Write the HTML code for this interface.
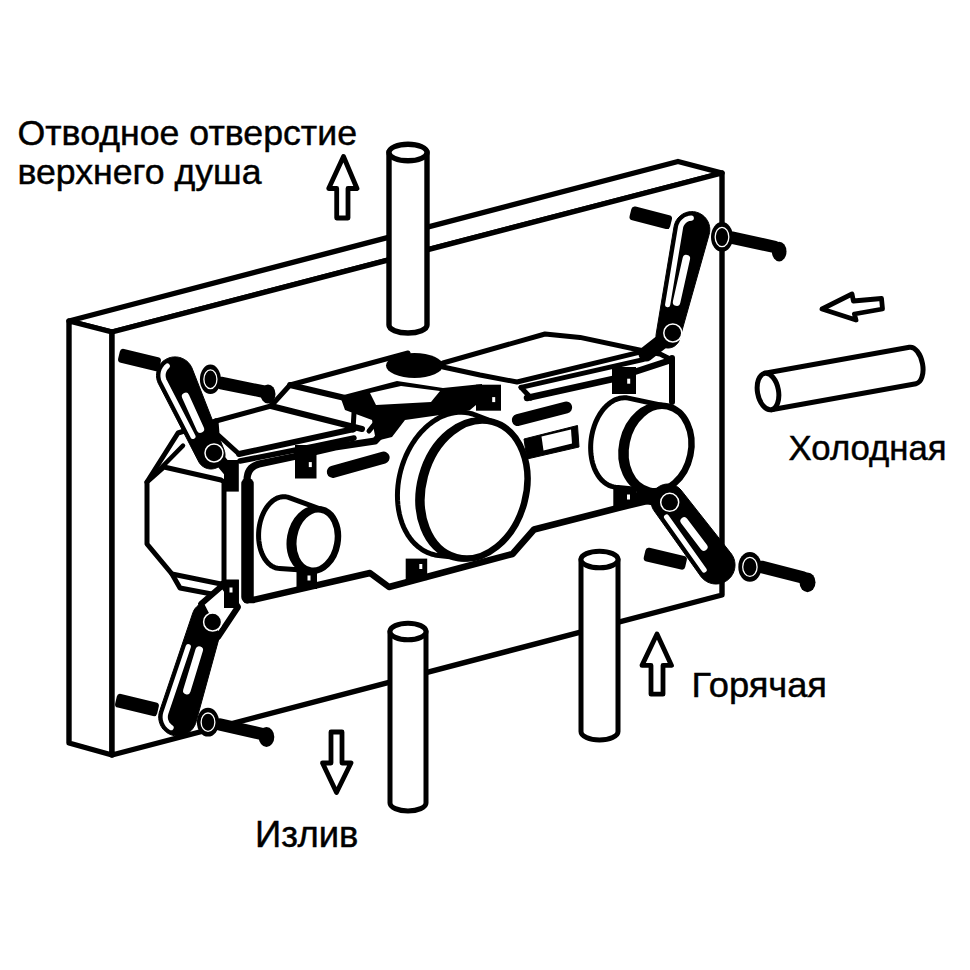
<!DOCTYPE html>
<html><head><meta charset="utf-8"><title>Diagram</title><style>
html,body{margin:0;padding:0;background:#fff;width:970px;height:970px;overflow:hidden}
svg{display:block}
text{font-family:"Liberation Sans",sans-serif;fill:#000}
</style></head><body>
<svg width="970" height="970" viewBox="0 0 970 970">
<g fill="#fff" stroke="#000" stroke-width="5.4" stroke-linejoin="round" stroke-linecap="round">
<polygon points="69,321 678,161.5 722,173 112,332"/>
<polygon points="69,321 112,332 112,755 69,743"/>
<polygon points="112,332 722,173 722,595 112,755"/>
<path d="M389,152 L389,325 A19,8 0 0 0 427,325 L427,152 Z"/>
<ellipse cx="408" cy="152.5" rx="19" ry="8.3"/>
</g>
<g fill="none" stroke="#000" stroke-width="5" stroke-linejoin="round" stroke-linecap="round">
<polygon fill="#fff" points="147,482 164,467 221,480 224,482 224,582 221,584 172,574 147,544"/>
<path d="M147,482 L178,433 L216,421"/>
<path d="M159,470 L183,445.6" stroke-width="4.5"/>
<path d="M172,574 L180,588 L217,595"/>
<path d="M216,421 L217,434 L239,454"/>
<path d="M239,454 L354,429" stroke-width="6"/>
<path d="M216,421 L271,406 L290,385 L408,353"/>
<path d="M271,406 L362,429" stroke-width="6"/>
<path d="M290,385 L345,398" stroke-width="6"/>
<path d="M354,413 L353,430 M381,416 L369,431"/>
<path d="M240,461 L316,446 L354,438" stroke-width="5.5"/>
<path d="M443,363 L545,334 L580,337.4 L644,351 L661,354.4 L672,360"/>
<path d="M443,367 L480,375 L517,382 L639,352.4"/>
<path d="M521,387.4 L643,359.6" stroke-width="5"/>
<path d="M521,387.4 L531,398"/>
<path d="M247.5,597 L247.5,484" stroke-width="12.5"/>
<path d="M247,600 L247,480 Q247,467 259,464 L294,456.6 L335,447 L375,441 L393,422" stroke-width="7"/>
<path d="M527,398 L613,379 L671,360" stroke-width="6.5"/>
<path d="M672,358 L672,402" stroke-width="6"/>
<path d="M247,600 L253,600 L370,573 L389,587 L512.5,554 L534,529.5 L618,508 L668,496" stroke-width="6.5"/>
</g>
<ellipse cx="414.5" cy="365.5" rx="28.5" ry="12.5" fill="#000"/>
<polygon points="340,396 397,381 443,388 482,384 482,400 470,410 440,415 405,420 392,437 376,441 372,420 345,410" fill="#000"/>
<polygon points="370,393 401,386 440,391 431,402 376,405" fill="#fff"/>
<line x1="332.78" y1="471.88" x2="383.72" y2="457.62" stroke="#000" stroke-width="12" stroke-linecap="round"/>
<line x1="517.81" y1="420" x2="566.19" y2="407.5" stroke="#000" stroke-width="12" stroke-linecap="round"/>
<polygon points="524,439 577.5,425.5 579,447 527,459" fill="#000" stroke="#000" stroke-width="1" stroke-linejoin="round"/>
<polygon points="541.5,436.5 571,429.5 572,443.5 543.5,450.5" fill="#fff"/>
<polygon points="397.43,495.23 397.58,490.25 398,485.24 398.67,480.23 399.61,475.23 400.81,470.28 402.25,465.4 403.93,460.6 405.85,455.92 408,451.38 410.36,446.99 412.92,442.79 415.67,438.78 418.6,435 421.69,431.46 424.93,428.17 428.3,425.15 431.79,422.42 435.37,419.99 439.04,417.87 442.77,416.08 446.54,414.61 450.34,413.48 454.15,412.7 457.95,412.26 461.72,412.18 465.44,412.44 469.1,413.05 472.67,414.01 476.14,415.31 497.72,423.65 500.98,425.23 504.11,427.12 507.1,429.31 509.93,431.8 512.59,434.57 515.06,437.61 517.34,440.9 519.4,444.43 521.25,448.17 522.87,452.12 524.25,456.25 525.39,460.54 526.29,464.97 526.93,469.53 527.31,474.18 527.44,478.9 527.31,483.68 526.92,488.48 526.28,493.29 525.39,498.08 524.25,502.83 522.86,507.51 521.24,512.11 519.39,516.6 517.32,520.95 515.05,525.15 512.58,529.18 509.92,533.01 507.09,536.63 504.1,540.03 500.96,543.17 497.7,546.06 494.32,548.67 490.85,550.99 487.3,553.01 483.68,554.72 480.02,556.11 476.34,557.18 472.64,557.92 468.96,558.33 465.3,558.4 461.68,558.14 438.56,555.56 434.9,554.95 431.33,553.99 427.86,552.69 424.5,551.06 421.28,549.1 418.21,546.82 415.3,544.24 412.58,541.36 410.04,538.21 407.71,534.79 405.59,531.12 403.7,527.22 402.05,523.11 400.64,518.82 399.48,514.35 398.57,509.73 397.93,504.99 397.55,500.15" fill="#fff" stroke="#000" stroke-width="5" stroke-linejoin="round"/><ellipse cx="471.5" cy="489.5" rx="51.5" ry="70" transform="rotate(15 471.5 489.5)" fill="#000" stroke="#000" stroke-width="6.5"/><ellipse cx="474.5" cy="489.5" rx="51.5" ry="70" transform="rotate(15 474.5 489.5)" fill="#fff" stroke="#000" stroke-width="6.5"/>
<polygon points="590.64,447.68 590.71,444.57 590.93,441.44 591.29,438.32 591.8,435.23 592.45,432.16 593.24,429.15 594.17,426.2 595.23,423.34 596.41,420.56 597.71,417.89 599.12,415.34 600.65,412.93 602.27,410.66 603.98,408.54 605.78,406.59 607.65,404.81 609.58,403.22 611.57,401.82 613.61,400.62 615.68,399.62 617.78,398.83 619.89,398.25 622.01,397.89 624.12,397.75 626.22,397.82 628.3,398.11 668.54,406.7 670.71,407.38 672.82,408.25 674.87,409.32 676.83,410.59 678.7,412.03 680.47,413.66 682.14,415.45 683.69,417.41 685.12,419.52 686.42,421.76 687.58,424.14 688.6,426.64 689.47,429.24 690.2,431.94 690.77,434.72 691.18,437.57 691.43,440.46 691.52,443.4 691.45,446.36 691.22,449.34 690.84,452.31 690.29,455.26 689.59,458.17 688.74,461.05 687.74,463.85 686.59,466.59 685.31,469.24 683.91,471.78 682.37,474.21 680.72,476.52 678.96,478.69 677.11,480.71 675.16,482.58 673.13,484.28 671.03,485.8 668.86,487.15 666.65,488.3 664.4,489.27 662.12,490.03 659.82,490.59 657.52,490.95 655.22,491.09 652.93,491.04 615.78,487.18 613.7,486.89 611.67,486.38 609.67,485.66 607.74,484.73 605.86,483.59 604.06,482.25 602.35,480.72 600.72,479 599.2,477.11 597.77,475.04 596.47,472.82 595.28,470.45 594.22,467.95 593.28,465.32 592.49,462.57 591.83,459.73 591.31,456.81 590.94,453.82 590.72,450.77" fill="#fff" stroke="#000" stroke-width="5" stroke-linejoin="round"/><ellipse cx="654.5" cy="448.5" rx="32.5" ry="43" transform="rotate(12 654.5 448.5)" fill="#000" stroke="#000" stroke-width="6.5"/><ellipse cx="658.5" cy="448.5" rx="32.5" ry="43" transform="rotate(12 658.5 448.5)" fill="#fff" stroke="#000" stroke-width="6.5"/>
<polygon points="258.58,535.58 258.63,533.08 258.79,530.57 259.06,528.07 259.45,525.6 259.95,523.16 260.55,520.76 261.26,518.43 262.07,516.16 262.98,513.97 263.98,511.87 265.07,509.88 266.24,507.99 267.48,506.23 268.8,504.59 270.18,503.09 271.62,501.73 273.11,500.53 274.64,499.48 276.21,498.59 277.81,497.86 279.43,497.31 281.06,496.93 282.69,496.72 284.33,496.69 285.95,496.83 287.55,497.15 289.12,497.63 323.22,510.04 324.66,510.6 326.06,511.3 327.41,512.15 328.71,513.13 329.94,514.24 331.09,515.47 332.18,516.83 333.18,518.29 334.1,519.87 334.92,521.54 335.66,523.3 336.29,525.15 336.83,527.06 337.26,529.04 337.58,531.07 337.8,533.15 337.91,535.26 337.91,537.39 337.8,539.53 337.59,541.68 337.27,543.82 336.84,545.94 336.31,548.03 335.67,550.08 334.94,552.09 334.12,554.03 333.2,555.91 332.2,557.71 331.12,559.42 329.96,561.04 328.74,562.55 327.45,563.96 326.1,565.24 324.7,566.41 323.25,567.45 321.77,568.35 320.26,569.11 318.73,569.74 317.18,570.22 315.62,570.55 314.06,570.73 312.51,570.76 279.67,568.51 278.05,568.37 276.45,568.05 274.88,567.57 273.34,566.91 271.84,566.08 270.4,565.09 269,563.94 267.68,562.64 266.42,561.2 265.24,559.61 264.14,557.89 263.12,556.05 262.2,554.1 261.38,552.04 260.65,549.88 260.03,547.64 259.52,545.33 259.12,542.96 258.82,540.53 258.64,538.07" fill="#fff" stroke="#000" stroke-width="5" stroke-linejoin="round"/><ellipse cx="312.1" cy="540" rx="22" ry="31" transform="rotate(10 312.1 540)" fill="#000" stroke="#000" stroke-width="6.5"/><ellipse cx="315.6" cy="540" rx="22" ry="31" transform="rotate(10 315.6 540)" fill="#fff" stroke="#000" stroke-width="6.5"/>
<rect x="295" y="445" width="21.5" height="33.5" fill="#000"/><rect x="308.8" y="462.1" width="3" height="5" fill="#fff"/>
<rect x="296.5" y="568" width="20.5" height="21" fill="#000"/><rect x="307.5" y="575.5" width="3" height="5" fill="#fff"/>
<rect x="476" y="384.7" width="25" height="26.0" fill="#000"/><rect x="492.2" y="397.1" width="3" height="5" fill="#fff"/>
<rect x="405.7" y="558.6" width="21.5" height="21.5" fill="#000"/><rect x="419.3" y="564.0" width="3" height="5" fill="#fff"/>
<rect x="612" y="367" width="24" height="27" fill="#000"/><rect x="627.2" y="378.7" width="3" height="5" fill="#fff"/>
<rect x="613.3" y="489" width="23.200000000000045" height="17" fill="#000"/><rect x="627.0" y="494.5" width="3" height="5" fill="#fff"/>
<rect x="224" y="460" width="14.800000000000011" height="31.600000000000023" fill="#000"/><rect x="229.5" y="467.5" width="3" height="5" fill="#fff"/>
<rect x="224" y="579.7" width="14.800000000000011" height="27.299999999999955" fill="#000"/><rect x="229.5" y="587.5" width="3" height="5" fill="#fff"/>
<line x1="214" y1="453" x2="229" y2="471" stroke="#000" stroke-width="12" stroke-linecap="round"/>
<line x1="672.8" y1="333" x2="646" y2="354" stroke="#000" stroke-width="15" stroke-linecap="round"/>
<line x1="669.7" y1="502.3" x2="640" y2="497" stroke="#000" stroke-width="12" stroke-linecap="round"/>
<rect x="0" y="-7" width="42.2" height="14" rx="3.5" fill="#000" transform="translate(119,355) rotate(13.71)"/>
<polygon points="156.5,375.4 156.57,373.79 156.78,372.19 157.13,370.61 157.62,369.07 158.23,367.58 158.98,366.15 159.85,364.79 160.83,363.51 161.92,362.32 163.11,361.23 164.39,360.25 165.75,359.38 167.18,358.63 168.67,358.02 170.21,357.53 171.79,357.18 173.39,356.97 175,356.9 176.61,356.97 178.21,357.18 179.79,357.53 181.33,358.02 182.82,358.63 184.25,359.38 185.61,360.25 186.89,361.23 188.08,362.32 189.17,363.51 190.15,364.79 191.02,366.15 191.77,367.58 192.38,369.07 224.16,450.21 224.52,451.38 224.79,452.57 224.95,453.78 225,455 224.95,456.22 224.79,457.43 224.52,458.62 224.16,459.79 223.69,460.92 223.12,462 222.47,463.03 221.72,464 220.9,464.9 220,465.72 219.03,466.47 218,467.12 216.92,467.69 215.79,468.16 214.62,468.52 213.43,468.79 212.22,468.95 211,469 209.78,468.95 208.57,468.79 207.38,468.52 206.21,468.16 205.08,467.69 204,467.12 202.97,466.47 202,465.72 201.1,464.9 200.28,464 199.53,463.03 198.88,462 198.31,460.92 158.23,383.22 157.62,381.73 157.13,380.19 156.78,378.61 156.57,377.01" fill="#000" stroke="#000" stroke-width="1"/>
<path d="M167.39,366.12 L165.98,367.48 L164.81,369.06 L163.92,370.8 L163.32,372.67 L163.03,374.61 L163.06,376.57 L163.41,378.5 L164.07,380.34 L192.94,436.32" fill="none" stroke="#fff" stroke-width="5.2" stroke-linecap="round" stroke-linejoin="round"/>
<line x1="185.63" y1="396.48" x2="200.39" y2="429.12" stroke="#fff" stroke-width="7.5" stroke-linecap="round"/>
<circle cx="214" cy="453" r="9" fill="#000" stroke="#fff" stroke-width="1.5"/>
<line x1="221" y1="383" x2="263" y2="391.5" stroke="#000" stroke-width="12.5" stroke-linecap="round"/><ellipse cx="268" cy="394" rx="7.5" ry="9.5" fill="#000"/>
<ellipse cx="210.4" cy="379.3" rx="10.5" ry="14.7" fill="#000"/><ellipse cx="210.4" cy="379.3" rx="6.51" ry="9.41" fill="none" stroke="#fff" stroke-width="1.3"/>
<rect x="0" y="-7" width="43.17" height="14" rx="3.5" fill="#000" transform="translate(116,700) rotate(13.39)"/>
<polygon points="158.7,717 158.77,715.34 158.99,713.7 159.35,712.08 159.85,710.5 192.96,612.53 193.5,611.24 194.14,610 194.89,608.82 195.74,607.72 196.69,606.69 197.72,605.74 198.82,604.89 200,604.14 201.24,603.5 202.53,602.96 203.86,602.55 205.22,602.24 206.61,602.06 208,602 209.39,602.06 210.78,602.24 212.14,602.55 213.47,602.96 214.76,603.5 216,604.14 217.18,604.89 218.28,605.74 219.31,606.69 220.26,607.72 221.11,608.82 221.86,610 222.5,611.24 223.04,612.53 223.45,613.86 223.76,615.22 223.94,616.61 224,618 223.94,619.39 223.76,620.78 223.45,622.14 196.05,721.92 195.55,723.5 194.92,725.03 194.15,726.5 193.26,727.9 192.25,729.21 191.14,730.44 189.91,731.55 188.6,732.56 187.2,733.45 185.73,734.22 184.2,734.85 182.62,735.35 181,735.71 179.36,735.93 177.7,736 176.04,735.93 174.4,735.71 172.78,735.35 171.2,734.85 169.67,734.22 168.2,733.45 166.8,732.56 165.49,731.55 164.26,730.44 163.15,729.21 162.14,727.9 161.25,726.5 160.48,725.03 159.85,723.5 159.35,721.92 158.99,720.3 158.77,718.66" fill="#000" stroke="#000" stroke-width="1"/>
<path d="M171.07,727.6 L169.43,726.38 L168.02,724.91 L166.86,723.22 L165.99,721.37 L165.43,719.41 L165.21,717.38 L165.31,715.34 L165.75,713.34 L188.3,646.62" fill="none" stroke="#fff" stroke-width="5.2" stroke-linecap="round" stroke-linejoin="round"/>
<line x1="186.84" y1="690.56" x2="199.26" y2="649.97" stroke="#fff" stroke-width="7.5" stroke-linecap="round"/>
<polygon points="201,604 223,585 238,607 218,637" fill="#fff" stroke="#000" stroke-width="6" stroke-linejoin="round"/>
<rect x="224" y="579.7" width="14.800000000000011" height="28.299999999999955" fill="#000"/><rect x="229.5" y="587.5" width="3" height="5" fill="#fff"/>
<circle cx="212.6" cy="622" r="9" fill="#000" stroke="#fff" stroke-width="1.5"/>
<line x1="220" y1="724.5" x2="262" y2="734" stroke="#000" stroke-width="12.5" stroke-linecap="round"/><ellipse cx="266.5" cy="737" rx="7.8" ry="10" fill="#000"/>
<ellipse cx="208" cy="722.2" rx="11.1" ry="14.4" fill="#000"/><ellipse cx="208" cy="722.2" rx="6.88" ry="9.22" fill="none" stroke="#fff" stroke-width="1.3"/>
<rect x="0" y="-7" width="41.84" height="14" rx="3.5" fill="#000" transform="translate(630.5,212.5) rotate(14.53)"/>
<polygon points="656,336 656.05,334.95 656.18,333.92 674.07,226.47 674.41,224.94 674.89,223.44 675.49,221.99 676.21,220.6 677.06,219.28 678.01,218.03 679.07,216.87 680.23,215.81 681.48,214.86 682.8,214.01 684.19,213.29 685.64,212.69 687.14,212.21 688.67,211.87 690.23,211.67 691.8,211.6 693.37,211.67 694.93,211.87 696.46,212.21 697.96,212.69 699.41,213.29 700.8,214.01 702.12,214.86 703.37,215.81 704.53,216.87 705.59,218.03 706.54,219.28 707.39,220.6 708.11,221.99 708.71,223.44 709.19,224.94 709.53,226.47 709.73,228.03 709.8,229.6 709.73,231.17 709.53,232.73 709.19,234.26 679.59,339.11 679.28,340.1 678.88,341.07 678.39,342 677.83,342.88 677.19,343.71 676.49,344.49 675.71,345.19 674.88,345.83 674,346.39 673.07,346.88 672.1,347.28 671.11,347.59 670.08,347.82 669.05,347.95 668,348 666.95,347.95 665.92,347.82 664.89,347.59 663.9,347.28 662.93,346.88 662,346.39 661.12,345.83 660.29,345.19 659.51,344.49 658.81,343.71 658.17,342.88 657.61,342 657.12,341.07 656.72,340.1 656.41,339.11 656.18,338.08 656.05,337.05" fill="#000" stroke="#000" stroke-width="1"/>
<path d="M691.32,218.11 L689.45,218.34 L687.65,218.87 L685.96,219.69 L684.42,220.78 L683.09,222.1 L681.98,223.62 L681.14,225.3 L680.58,227.09 L667.66,304.64" fill="none" stroke="#fff" stroke-width="5.2" stroke-linecap="round" stroke-linejoin="round"/>
<line x1="686.35" y1="258.55" x2="676.59" y2="302.17" stroke="#fff" stroke-width="7.5" stroke-linecap="round"/>
<circle cx="672.8" cy="333" r="9" fill="#000" stroke="#fff" stroke-width="1.5"/>
<line x1="731.9" y1="237.7" x2="775" y2="247" stroke="#000" stroke-width="12.5" stroke-linecap="round"/><ellipse cx="779.2" cy="251.6" rx="7.3" ry="9.9" fill="#000"/>
<ellipse cx="722" cy="237" rx="11" ry="15" fill="#000"/><ellipse cx="722" cy="237" rx="6.82" ry="9.6" fill="none" stroke="#fff" stroke-width="1.3"/>
<rect x="0" y="-7" width="42.52" height="14" rx="3.5" fill="#000" transform="translate(644.6,553.8) rotate(13.19)"/>
<polygon points="651,501 651.06,499.52 651.26,498.05 651.58,496.6 652.03,495.19 652.59,493.82 653.28,492.5 654.07,491.25 654.98,490.07 655.98,488.98 657.07,487.98 658.25,487.07 659.5,486.28 660.82,485.59 662.19,485.03 663.6,484.58 665.05,484.26 666.52,484.06 668,484 669.48,484.06 670.95,484.26 672.4,484.58 673.81,485.03 675.18,485.59 676.5,486.28 677.75,487.07 678.93,487.98 680.02,488.98 681.02,490.07 730.55,552.79 731.56,554.1 732.45,555.5 733.22,556.97 733.85,558.5 734.35,560.08 734.71,561.7 734.93,563.34 735,565 734.93,566.66 734.71,568.3 734.35,569.92 733.85,571.5 733.22,573.03 732.45,574.5 731.56,575.9 730.55,577.21 729.44,578.44 728.21,579.55 726.9,580.56 725.5,581.45 724.03,582.22 722.5,582.85 720.92,583.35 719.3,583.71 717.66,583.93 716,584 714.34,583.93 712.7,583.71 711.08,583.35 709.5,582.85 707.97,582.22 706.5,581.45 705.1,580.56 703.79,579.55 702.56,578.44 701.45,577.21 700.44,575.9 654.07,510.75 653.28,509.5 652.59,508.18 652.03,506.81 651.58,505.4 651.26,503.95 651.06,502.48" fill="#000" stroke="#000" stroke-width="1"/>
<path d="M704.14,569.89 L666.56,517.08" fill="none" stroke="#fff" stroke-width="5.2" stroke-linecap="round" stroke-linejoin="round"/>
<line x1="703.84" y1="547.12" x2="684.16" y2="520.88" stroke="#fff" stroke-width="7.5" stroke-linecap="round"/>
<circle cx="669.7" cy="502.3" r="9" fill="#000" stroke="#fff" stroke-width="1.5"/>
<line x1="761.5" y1="566.9" x2="803" y2="577.5" stroke="#000" stroke-width="12.5" stroke-linecap="round"/><ellipse cx="807.5" cy="582.3" rx="8" ry="9.9" fill="#000"/>
<ellipse cx="749.9" cy="566.9" rx="11.6" ry="14.9" fill="#000"/><ellipse cx="749.9" cy="566.9" rx="7.19" ry="9.54" fill="none" stroke="#fff" stroke-width="1.3"/>
<g fill="#fff" stroke="#000" stroke-width="5" stroke-linejoin="round" stroke-linecap="round">
<path d="M390,631.5 L390,803 A18,8 0 0 0 426,803 L426,631.5 Z"/>
<ellipse cx="408" cy="631.5" rx="18" ry="8.3"/>
<path d="M581,559.5 L581,731.5 A18.5,8.5 0 0 0 618,731.5 L618,559.5 Z"/>
<ellipse cx="599.5" cy="559.5" rx="18.5" ry="8.3"/>
<g transform="translate(768,391.5) rotate(-10.2)">
<path d="M0,-18.5 L147,-18.5 A10,18.5 0 0 1 147,18.5 L0,18.5 Z"/>
<ellipse cx="0" cy="0" rx="10.5" ry="18.5"/>
</g>
</g>
<g fill="#fff" stroke="#000" stroke-width="4.8" stroke-linejoin="round">
<polygon points="343.5,156.5 357,188.5 348,188.5 348,218 336.7,218 336.7,188.5 328.7,188.5"/>
<polygon points="336.5,792.5 351,763 342,763 342,732 331,732 331,763 322.5,763"/>
<polygon points="657,634 671.5,665.4 663,665.4 663,694.2 651,694.2 651,665.4 642,665.4"/>
<polygon points="822,309 852,294 853.4,301 881.5,298.5 882.5,309 854.4,314 856,320"/>
</g>
<g font-family="Liberation Sans, sans-serif" fill="#000" stroke="#000" stroke-width="0.45">
<text x="17.5" y="144.8" font-size="35.5" textLength="339.5" lengthAdjust="spacingAndGlyphs">Отводное отверстие</text>
<text x="17.5" y="184" font-size="35.5" textLength="244" lengthAdjust="spacingAndGlyphs">верхнего душа</text>
<text x="788.6" y="460.2" font-size="34.5" textLength="158" lengthAdjust="spacingAndGlyphs">Холодная</text>
<text x="691.6" y="697.1" font-size="35" textLength="135.4" lengthAdjust="spacingAndGlyphs">Горячая</text>
<text x="255" y="846.9" font-size="36.5" textLength="103.4" lengthAdjust="spacingAndGlyphs">Излив</text>
</g>
</svg>
</body></html>
